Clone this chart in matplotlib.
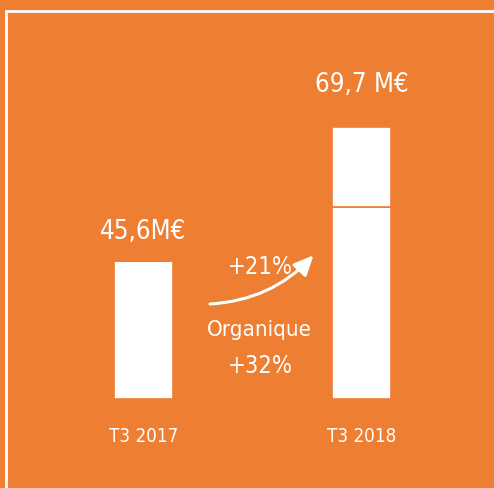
import matplotlib.pyplot as plt
from matplotlib.patches import Rectangle

# data (bar heights, in the chart's own visual units)
periods = ['T3 2017', 'T3 2018']
value_labels = ['45,6M€', '69,7 M€']
base_heights = [45.6, 63.4]
top_heights = [0, 26.4]
growth_label = '+21%'
organic_label = 'Organique'
organic_growth = '+32%'

orange = '#ED7E32'
font = dict(family='DejaVu Sans', stretch='condensed', color='white')

fig = plt.figure(figsize=(4.94, 4.89), dpi=100, facecolor=orange)
ax = fig.add_axes([0, 0, 1, 1])
ax.set_facecolor(orange)

x = [0, 1]
ax.bar(x, base_heights, width=0.27, color='white', edgecolor=orange, linewidth=1.2)
ax.bar(x, top_heights, bottom=base_heights, width=0.27, color='white',
       edgecolor=orange, linewidth=1.2)

totals = [b + t for b, t in zip(base_heights, top_heights)]
gaps = [7.6, 11.9]
for xi, tot, lab, g in zip(x, totals, value_labels, gaps):
    ax.text(xi, tot + g, lab, ha='center', va='baseline', fontsize=18.5, **font)
for xi, p in zip(x, periods):
    ax.text(xi, -13.9, p, ha='center', va='baseline', fontsize=13.5, **font)

# growth arrow between bars
ax.annotate('', xy=(0.78, 47.5), xytext=(0.305, 31.4),
            arrowprops=dict(arrowstyle='-|>,head_length=1.2,head_width=0.55', color='white',
                            lw=2.2, shrinkA=0, shrinkB=0,
                            connectionstyle='arc3,rad=0.2'))
ax.text(0.534, 41.6, growth_label, ha='center', va='baseline', fontsize=17, **font)
ax.text(0.532, 21.0, organic_label, ha='center', va='baseline', fontsize=16, **font)
ax.text(0.534, 8.9, organic_growth, ha='center', va='baseline', fontsize=17, **font)

ax.set_xlim(-0.658, 1.608)
ax.set_ylim(-29.4, 132.2)
ax.axis('off')

# white frame running off the right and bottom edges
fig.patches.append(Rectangle((5.5 / 494, -0.1), 1.2, 1.1 - 11.5 / 489,
                             transform=fig.transFigure, fill=False,
                             edgecolor='white', linewidth=2))

fig.savefig('out.png', dpi=100, facecolor=orange)
